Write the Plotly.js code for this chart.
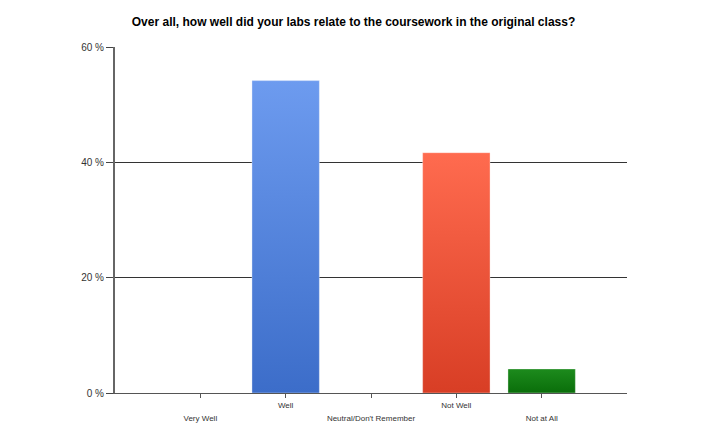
<!DOCTYPE html>
<html>
<head>
<meta charset="utf-8">
<script src="https://cdn.plot.ly/plotly-3.0.1.min.js"></script>
<style>html,body{margin:0;padding:0;background:#fff;}#chart{width:720px;height:445px;}</style>
</head>
<body>
<div id="chart"></div>
<script>
const categories = ["Very Well", "Well", "Neutral/Don't Remember", "Not Well", "Not at All"];
const values = [0, 54.17, 0, 41.67, 4.17];
const barColors = ["#4a7fe0", "#5585dd", "#888888", "#ee5438", "#137c13"];
const gradTop = ["#6d9bef", "#6d9bef", "#999999", "#ff6b4f", "#1d8b1d"];
const gradBottom = ["#3c6dc9", "#3c6dc9", "#777777", "#d83e25", "#0a6e0a"];
const yTicks = [0, 20, 40, 60];
const yTickText = ["0 %", "20 %", "40 %", "60 %"];
const row1Text = ["", "Well", "", "Not Well", ""];
const row2Idx = [0, 2, 4];
const row2Text = ["Very Well", "Neutral/Don't Remember", "Not at All"];

const trace = {
  type: "bar",
  x: categories,
  y: values,
  width: 0.79,
  marker: {color: barColors, line: {color: "rgba(255,255,255,0.35)", width: 1}},
  hoverinfo: "x+y"
};

// invisible helper trace so the second (staggered-label) axis is drawn
const labelTrace = {
  type: "scatter", mode: "markers",
  x: row2Idx, y: row2Idx.map(function(){ return 0; }),
  xaxis: "x2", yaxis: "y",
  marker: {opacity: 0, size: 1},
  hoverinfo: "skip", showlegend: false
};

const layout = {
  width: 720, height: 445,
  margin: {l: 115, r: 93, t: 47, b: 52},
  paper_bgcolor: "#fff", plot_bgcolor: "#fff",
  showlegend: false,
  font: {family: "Liberation Sans, Arial, sans-serif", color: "#333"},
  title: {
    text: "<b>Over all, how well did your labs relate to the coursework in the original class?</b>",
    font: {size: 12, color: "#000", family: "Liberation Sans, Arial, sans-serif"},
    x: 0.491, xanchor: "center", xref: "container",
    y: 0.95, yanchor: "middle", yref: "container"
  },
  xaxis: {
    type: "category",
    range: [-1, 5],
    tickmode: "array",
    tickvals: categories,
    ticktext: row1Text,
    ticks: "outside", ticklen: 4, tickwidth: 1, tickcolor: "#555",
    showline: true, linecolor: "#555", linewidth: 1,
    showgrid: false, zeroline: false,
    tickfont: {size: 8, color: "#333"},
    fixedrange: true
  },
  xaxis2: {
    overlaying: "x", anchor: "y", side: "bottom",
    type: "linear", range: [-1, 5],
    tickmode: "array", tickvals: row2Idx, ticktext: row2Text,
    ticks: "", showline: false, showgrid: false, zeroline: false,
    ticklabelstandoff: 19,
    tickfont: {size: 8, color: "#333"},
    fixedrange: true
  },
  yaxis: {
    range: [0, 60],
    tickmode: "array", tickvals: yTicks, ticktext: yTickText,
    ticks: "outside", ticklen: 7, tickwidth: 1, tickcolor: "#444",
    showline: true, linecolor: "#666", linewidth: 2,
    showgrid: true, gridcolor: "#333", gridwidth: 1,
    zeroline: false,
    tickfont: {size: 10, color: "#333"},
    fixedrange: true
  }
};

Plotly.newPlot("chart", [trace, labelTrace], layout, {displayModeBar: false, staticPlot: true}).then(function(gd){
  const svg = gd.querySelector("svg.main-svg");
  const ns = "http://www.w3.org/2000/svg";
  let defs = svg.querySelector("defs");
  if (!defs) { defs = document.createElementNS(ns, "defs"); svg.insertBefore(defs, svg.firstChild); }
  categories.forEach(function(c, i){
    const g = document.createElementNS(ns, "linearGradient");
    g.setAttribute("id", "barGrad" + i);
    g.setAttribute("x1", "0"); g.setAttribute("y1", "0");
    g.setAttribute("x2", "0"); g.setAttribute("y2", "1");
    const s1 = document.createElementNS(ns, "stop");
    s1.setAttribute("offset", "0"); s1.setAttribute("stop-color", gradTop[i]);
    const s2 = document.createElementNS(ns, "stop");
    s2.setAttribute("offset", "1"); s2.setAttribute("stop-color", gradBottom[i]);
    g.appendChild(s1); g.appendChild(s2); defs.appendChild(g);
  });
  const paths = gd.querySelectorAll(".barlayer .point path");
  paths.forEach(function(p, i){ p.style.fill = "url(#barGrad" + i + ")"; });
});
</script>
</body>
</html>
